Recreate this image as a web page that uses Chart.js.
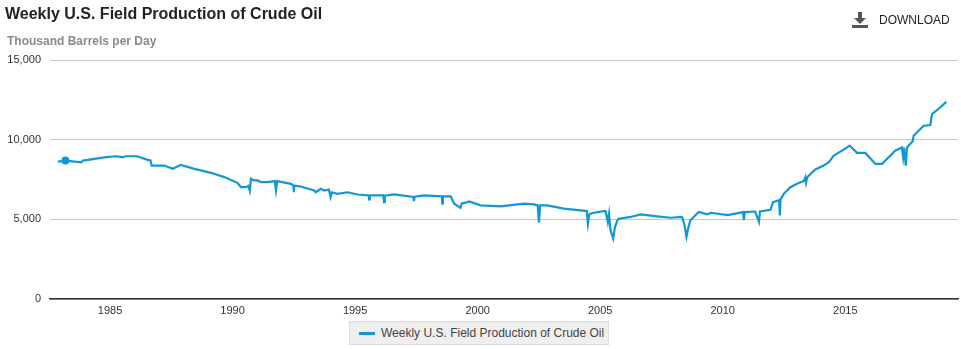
<!DOCTYPE html>
<html lang="en">
<head>
    <meta charset="UTF-8">
    <title>Weekly U.S. Field Production of Crude Oil</title>
    <script src="https://cdn.jsdelivr.net/npm/chart.js"></script>
    <style>
        body { margin: 0; background: #fff; font-family: "Liberation Sans", Arial, sans-serif; }
        #wrap { position: relative; width: 961px; height: 349px; overflow: hidden; }
        #chart { position: absolute; left: 0; top: 0; }
        .title { position: absolute; left: 5px; top: 5px; font-size: 16px; font-weight: bold; color: #222; white-space: nowrap; }
        .subtitle { position: absolute; left: 7px; top: 34px; font-size: 12px; font-weight: bold; color: #8a8a8a; white-space: nowrap; }
        .download { position: absolute; left: 852px; top: 11px; height: 18px; display: flex; align-items: center; font-size: 12px; color: #222; }
        .download svg { margin-right: 11px; }
        #legend { position: absolute; left: 349px; top: 321px; width: 260px; height: 24px; box-sizing: border-box;
                  background: #efefef; border: 1px solid #dcdcdc; display: flex; align-items: center; font-size: 12px; color: #444; white-space: nowrap; }
        #legend .swatch { display: inline-block; width: 16px; height: 3px; margin: 0 6px 0 9px; }
    </style>
</head>
<body>
<div id="wrap">
    <canvas id="chart" width="961" height="349"></canvas>
    <div class="title">Weekly U.S. Field Production of Crude Oil</div>
    <div class="subtitle">Thousand Barrels per Day</div>
    <div class="download">
        <svg width="16" height="16" viewBox="0 0 16 16">
            <rect x="6" y="0" width="4" height="7" fill="#555"/>
            <polygon points="2,6 14,6 8,12" fill="#555"/>
            <rect x="0" y="13" width="16" height="3" fill="#555"/>
        </svg>
        DOWNLOAD
    </div>
    <div id="legend"></div>
</div>

<script>
    // weekly series (decimal year, thousand barrels per day)
    const dates = [
        1982.87, 1983.18, 1983.82, 1983.9, 1984.36, 1984.84, 1985.24, 1985.5, 1985.65, 1986.1,
        1986.54, 1986.65, 1986.7, 1987.21, 1987.56, 1987.89, 1988.44, 1989.12, 1989.66, 1990.2,
        1990.34, 1990.54, 1990.65, 1990.7, 1990.75, 1990.87, 1991.02, 1991.16, 1991.43, 1991.72,
        1991.77, 1991.82, 1992.38, 1992.48, 1992.5, 1992.52, 1992.78, 1993.33, 1993.39, 1993.6,
        1993.73, 1993.93, 1994.0, 1994.05, 1994.28, 1994.69, 1995.1, 1995.55, 1995.57, 1995.6,
        1996.15, 1996.18, 1996.21, 1996.59, 1997.38, 1997.4, 1997.43, 1997.81, 1998.54, 1998.56,
        1998.58, 1998.9, 1999.04, 1999.3, 1999.35, 1999.58, 1999.65, 2000.12, 2000.94, 2001.62,
        2001.9, 2002.3, 2002.45, 2002.5, 2002.55, 2002.84, 2003.52, 2004.2, 2004.45, 2004.5,
        2004.55, 2004.68, 2005.15, 2005.22, 2005.31, 2005.36, 2005.42, 2005.53, 2005.6, 2005.7,
        2005.76, 2006.24, 2006.65, 2007.32, 2007.87, 2008.34, 2008.44, 2008.52, 2008.6, 2008.68,
        2009.02, 2009.37, 2009.5, 2009.65, 2010.2, 2010.83, 2010.86, 2010.9, 2011.32, 2011.48,
        2011.52, 2011.95, 2012.05, 2012.3, 2012.33, 2012.36, 2012.49, 2012.76, 2013.03, 2013.3,
        2013.37, 2013.4, 2013.45, 2013.58, 2013.78, 2014.12, 2014.33, 2014.53, 2014.87, 2015.18,
        2015.3, 2015.48, 2015.82, 2016.23, 2016.5, 2016.7, 2017.04, 2017.31, 2017.36, 2017.4,
        2017.47, 2017.52, 2017.58, 2017.75, 2017.79, 2018.2, 2018.47, 2018.54, 2018.87, 2019.12
    ];
    const production = [
        8625, 8690, 8580, 8690, 8790, 8900, 8960, 8900, 8960, 8960,
        8730, 8700, 8375, 8375, 8170, 8420, 8170, 7920, 7650, 7290,
        7020, 7020, 7100, 6800, 7540, 7440, 7440, 7330, 7330, 7400,
        6810, 7400, 7230, 7120, 6700, 7120, 7060, 6810, 6700, 6920,
        6810, 6870, 6400, 6700, 6600, 6700, 6560, 6500, 6250, 6500,
        6500, 6080, 6480, 6560, 6400, 6140, 6420, 6500, 6440, 5980,
        6440, 6440, 5980, 5730, 6000, 6080, 6125, 5875, 5810, 5940,
        5980, 5940, 5875, 4800, 5875, 5875, 5670, 5560, 5520, 4730,
        5300, 5400, 5520, 5520, 4830, 5350, 4310, 3790, 4500, 4940,
        5040, 5150, 5310, 5190, 5100, 5150, 4625, 3900, 4500, 4940,
        5460, 5310, 5400, 5380, 5270, 5450, 4950, 5450, 5490, 4850,
        5500, 5600, 6080, 6200, 5250, 6250, 6600, 7020, 7230, 7400,
        7640, 7300, 7640, 7850, 8125, 8375, 8580, 9000, 9310, 9625,
        9450, 9170, 9170, 8480, 8480, 8790, 9310, 9520, 8900, 9500,
        8375, 9500, 9625, 9900, 10250, 10875, 10920, 11600, 12020, 12375
    ];
    const yearTicks = [1985, 1990, 1995, 2000, 2005, 2010, 2015];
    const valueTicks = [0, 5000, 10000, 15000];
    const seriesName = 'Weekly U.S. Field Production of Crude Oil';
    const lineColor = '#1197d6';

    const points = dates.map((d, i) => ({ x: d, y: production[i] }));

    const ctx = document.getElementById('chart').getContext('2d');
    const chart = new Chart(ctx, {
        type: 'line',
        data: {
            datasets: [{
                label: seriesName,
                data: points,
                borderColor: lineColor,
                backgroundColor: lineColor,
                borderWidth: 2.2,
                tension: 0,
                pointRadius: points.map((p, i) => i === 1 ? 4 : 0),
                pointBackgroundColor: lineColor,
                pointBorderWidth: 0,
                fill: false
            }]
        },
        options: {
            responsive: false,
            animation: false,
            devicePixelRatio: 1,
            layout: { padding: { top: 60, right: 3, left: 0, bottom: 0 } },
            scales: {
                x: {
                    type: 'linear',
                    min: 1982.55,
                    max: 2019.6,
                    afterBuildTicks: (scale) => { scale.ticks = yearTicks.map(v => ({ value: v })); },
                    afterFit: (scale) => { scale.height = 50; },
                    grid: { display: false, drawTicks: false },
                    border: { display: true, color: '#333', width: 1.5 },
                    ticks: {
                        padding: 5,
                        color: '#333',
                        font: { family: 'Liberation Sans', size: 11 },
                        maxRotation: 0,
                        callback: (v) => String(v)
                    }
                },
                y: {
                    min: 0,
                    max: 15000,
                    afterBuildTicks: (scale) => { scale.ticks = valueTicks.map(v => ({ value: v })); },
                    afterFit: (scale) => { scale.width = 50; },
                    grid: { color: '#c8c8c8', lineWidth: 1, drawTicks: false },
                    border: { display: false },
                    ticks: {
                        padding: 9,
                        color: '#333',
                        font: { family: 'Liberation Sans', size: 11 },
                        callback: (v) => v.toLocaleString('en-US')
                    }
                }
            },
            plugins: {
                legend: { display: false },
                tooltip: { enabled: false }
            }
        }
    });

    // html legend with a grey box, like the original
    const legend = document.getElementById('legend');
    chart.data.datasets.forEach(ds => {
        const sw = document.createElement('span');
        sw.className = 'swatch';
        sw.style.background = ds.borderColor;
        legend.appendChild(sw);
        legend.appendChild(document.createTextNode(ds.label));
    });
</script>
</body>
</html>
